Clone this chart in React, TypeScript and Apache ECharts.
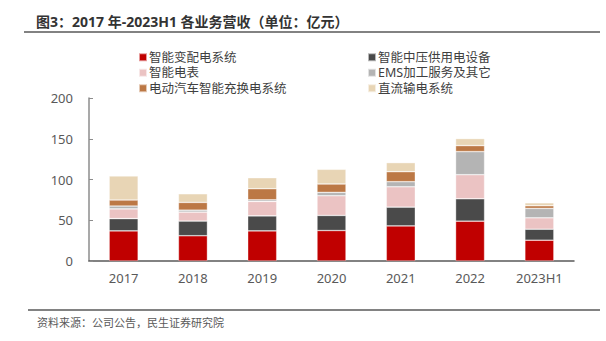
import React, { useEffect, useRef } from "react";
import * as echarts from "echarts";

const categories = ["2017", "2018", "2019", "2020", "2021", "2022", "2023H1"];
const seriesNames = [
  "智能变配电系统",
  "智能中压供用电设备",
  "智能电表",
  "EMS加工服务及其它",
  "电动汽车智能充换电系统",
  "直流输电系统",
];
const smartDistribution = [37, 31, 37, 37.4, 43.1, 48.9, 25.5];
const mediumVoltage = [15, 18, 18.4, 18.5, 23, 27.5, 13.5];
const smartMeter = [12, 11, 17.7, 24.2, 25, 29.5, 14];
const emsOther = [3.4, 2.4, 2, 4.1, 6.2, 28.3, 11.5];
const evCharging = [7.4, 9.5, 13.6, 10.3, 12.3, 7.4, 3.3];
const dcTransmission = [29.5, 10.6, 13.5, 18, 11.1, 8.6, 3.6];
const colors = ["#C00000", "#4A4A4A", "#EBC3C3", "#B4B4B4", "#BC7845", "#E8D5B5"];
const yTicks = [0, 50, 100, 150, 200];

const seriesData = [smartDistribution, mediumVoltage, smartMeter, emsOther, evCharging, dcTransmission];

export default function App() {
  const ref = useRef<HTMLDivElement>(null);
  useEffect(() => {
    if (!ref.current) return;
    const chart = echarts.init(ref.current, null, { renderer: "svg" });
    const font = "'Noto Sans', 'Noto Sans CJK SC', sans-serif";
    const legendCommon = {
      orient: "vertical" as const,
      top: 46,
      itemWidth: 8,
      itemHeight: 8,
      itemGap: 3,
      icon: "rect",
      textStyle: { fontSize: 12.5, lineHeight: 12, color: "#404040", fontFamily: font, padding: [0, 0, 0, -3] },
    };
    chart.setOption({
      animation: false,
      textStyle: { fontFamily: font },
      title: {
        text: "图3：2017 年-2023H1 各业务营收（单位：亿元）",
        left: 31,
        top: 9,
        textStyle: { fontSize: 14, fontWeight: "bold", color: "#333333", fontFamily: font },
      },
      legend: [
        { ...legendCommon, left: 133, data: [seriesNames[0], seriesNames[2], seriesNames[4]] },
        { ...legendCommon, left: 362, data: [seriesNames[1], seriesNames[3], seriesNames[5]] },
      ],
      grid: { left: 89, right: 32, top: 98, bottom: 80 },
      xAxis: {
        type: "category",
        data: categories,
        axisLine: { lineStyle: { color: "#595959", width: 1.5 } },
        axisTick: { show: false },
        axisLabel: { color: "#595959", fontSize: 13, margin: 10, fontFamily: font },
      },
      yAxis: {
        type: "value",
        min: yTicks[0],
        max: yTicks[yTicks.length - 1],
        interval: 50,
        axisLine: { show: true, lineStyle: { color: "#8c8c8c", width: 1.5 } },
        axisTick: { show: true, inside: true, length: 4, lineStyle: { color: "#8c8c8c" } },
        splitLine: { show: false },
        axisLabel: { color: "#595959", fontSize: 13, margin: 16, fontFamily: font },
      },
      series: seriesNames.map((name, i) => ({
        name,
        type: "bar",
        stack: "total",
        barWidth: 29,
        data: seriesData[i],
        itemStyle: { color: colors[i], borderColor: "rgba(255,255,255,0.6)", borderWidth: 0.6 },
      })),
      graphic: [
        { type: "line", shape: { x1: 24, y1: 32, x2: 600, y2: 32 }, style: { stroke: "#595959", lineWidth: 1.5 } },
        { type: "line", shape: { x1: 28, y1: 310, x2: 600, y2: 310 }, style: { stroke: "#595959", lineWidth: 1.5 } },
        {
          type: "text",
          x: 37,
          y: 317,
          style: { text: "资料来源：公司公告，民生证券研究院", fontSize: 11, fill: "#595959", fontFamily: font },
        },
      ],
    });
    return () => chart.dispose();
  }, []);
  return <div ref={ref} style={{ width: 606, height: 341, position: "absolute", left: 0, top: 0, background: "#fff" }} />;
}
